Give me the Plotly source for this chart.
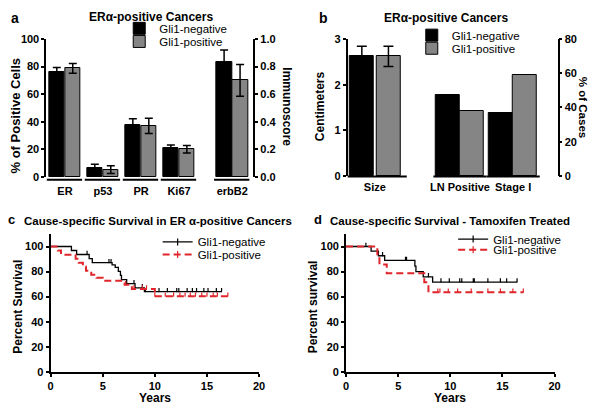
import numpy as np
import plotly.graph_objects as go

W, H = 600, 413

# ---------------- data ----------------
# panel a: % of positive cells (left axis) and immunoscore (right axis)
a_cats = ["ER", "p53", "PR", "Ki67"]
a_neg = [76.0, 6.6, 37.5, 21.0]
a_neg_err = [3.3, 2.5, 4.6, 2.2]
a_pos = [78.7, 5.2, 37.0, 20.0]
a_pos_err = [3.5, 2.8, 5.5, 2.7]
a_imm_cats = ["erbB2"]
a_imm_neg = [0.83]
a_imm_neg_err = [0.09]
a_imm_pos = [0.70]
a_imm_pos_err = [0.115]

# panel b: size in cm (left axis) and % of cases (right axis)
b_size_cats = ["Size"]
b_size_neg = [2.62]
b_size_neg_err = [0.22]
b_size_pos = [2.62]
b_size_pos_err = [0.22]
b_pct_cats = ["LN Positive", "Stage I"]
b_pct_neg = [47.0, 37.0]
b_pct_pos = [38.0, 59.0]

# panel c: cause-specific survival, ER-alpha positive
c_neg_t = [0, 2.0, 2.5, 3.7, 4.0, 5.9, 6.2, 6.5, 6.7, 6.8, 7.3, 8.1, 9.0, 16.4]
c_neg_s = [100, 96.8, 93.6, 90.3, 87.1, 85.4, 83.4, 80.1, 76.9, 73.6, 70.3, 67.0, 63.9, 63.9]
c_neg_cens = [3.5, 5.6, 5.8, 8.0, 8.8, 9.1, 10.4, 11.2, 12.1, 12.3, 13.1, 13.6, 14.0, 14.7, 15.1, 15.9, 16.4]
c_pos_t = [0, 0.7, 1.0, 2.4, 2.7, 3.1, 3.4, 3.9, 4.4, 5.0, 7.1, 7.8, 10.0, 17.0]
c_pos_s = [100, 96.8, 93.5, 90.3, 87.1, 83.9, 80.6, 77.4, 75.0, 72.6, 69.4, 66.0, 60.3, 60.3]
c_pos_cens = [7.2, 8.0, 8.8, 9.2, 10.0, 11.0, 11.8, 12.4, 12.9, 13.4, 13.9, 14.5, 15.0, 15.6, 16.0, 17.0]

# panel d: cause-specific survival, tamoxifen treated
d_neg_t = [0, 2.4, 3.1, 3.7, 6.6, 6.7, 7.4, 8.3, 16.4]
d_neg_s = [100, 96.3, 92.6, 88.9, 84.4, 80.0, 75.8, 71.6, 71.6]
d_neg_cens = [1.9, 3.5, 5.7, 5.8, 7.9, 9.1, 9.9, 10.9, 11.1, 12.2, 12.3, 13.6, 14.8, 15.4, 16.4]
d_pos_t = [0, 3.0, 3.2, 3.9, 7.5, 7.9, 17.0]
d_pos_s = [100, 92.9, 85.7, 78.6, 71.4, 63.5, 63.5]
d_pos_cens = [8.8, 9.0, 9.8, 10.7, 12.0, 13.6, 14.8, 16.0, 17.0]

series_names = ["Gli1-negative", "Gli1-positive"]

# ---------------- style ----------------
FONT = "Liberation Sans, Arial, sans-serif"
BLACK = "#000000"
GRAY = "#858585"
RED = "#e0262b"


def fx(px):
    return px / W


def fy(py):
    return 1 - py / H


fig = go.Figure()

# ----- panel a -----
a_x = np.arange(len(a_cats), dtype=float)
a_imm_x = np.arange(len(a_imm_cats), dtype=float) + len(a_cats) + 0.4
bw_a = 0.41
for vals, errs, xs, yax, col, nm, off, leg in [
    (a_neg, a_neg_err, a_x, "y", BLACK, series_names[0], -0.42, "legend"),
    (a_pos, a_pos_err, a_x, "y", GRAY, series_names[1], 0.0, "legend2"),
    (a_imm_neg, a_imm_neg_err, a_imm_x, "y2", BLACK, series_names[0], -0.42, None),
    (a_imm_pos, a_imm_pos_err, a_imm_x, "y2", GRAY, series_names[1], 0.0, None),
]:
    fig.add_trace(go.Bar(
        x=xs, y=vals, xaxis="x", yaxis=yax, name=nm,
        width=bw_a, offset=off,
        marker=dict(color=col, line=dict(color=BLACK, width=1)),
        error_y=dict(type="data", array=errs, color=BLACK, thickness=1.5, width=4),
        showlegend=leg is not None, legend=leg if leg else "legend",
    ))

# ----- panel b -----
b_size_x = np.arange(len(b_size_cats), dtype=float)
b_pct_x = np.arange(len(b_pct_cats), dtype=float) + 1.6
bw_b = 0.45
for vals, errs, xs, yax, col, nm, off, leg in [
    (b_size_neg, b_size_neg_err, b_size_x, "y3", BLACK, series_names[0], -0.47, "legend3"),
    (b_size_pos, b_size_pos_err, b_size_x, "y3", GRAY, series_names[1], 0.03, "legend4"),
    (b_pct_neg, None, b_pct_x, "y4", BLACK, series_names[0], -0.46, None),
    (b_pct_pos, None, b_pct_x, "y4", GRAY, series_names[1], 0.0, None),
]:
    fig.add_trace(go.Bar(
        x=xs, y=vals, xaxis="x2", yaxis=yax, name=nm,
        width=bw_b, offset=off,
        marker=dict(color=col, line=dict(color=BLACK, width=1)),
        error_y=(dict(type="data", array=errs, color=BLACK, thickness=1.5, width=5)
                 if errs is not None else None),
        showlegend=leg is not None, legend=leg if leg else "legend",
    ))


# ----- panels c, d -----
def censor_y(t, s, c):
    t = np.asarray(t)
    s = np.asarray(s)
    idx = np.searchsorted(t, np.asarray(c), side="right") - 1
    return s[np.clip(idx, 0, len(s) - 1)]


for (t, s, cens, col, dash, width, xa, ya, nm, leg) in [
    (c_neg_t, c_neg_s, c_neg_cens, BLACK, "solid", 1.3, "x3", "y5", series_names[0], "legend5"),
    (c_pos_t, c_pos_s, c_pos_cens, RED, "dash", 2.0, "x3", "y5", series_names[1], "legend6"),
    (d_neg_t, d_neg_s, d_neg_cens, BLACK, "solid", 1.3, "x4", "y6", series_names[0], "legend7"),
    (d_pos_t, d_pos_s, d_pos_cens, RED, "dash", 2.0, "x4", "y6", series_names[1], "legend8"),
]:
    dd = "7px,4px" if dash == "dash" else "solid"
    fig.add_trace(go.Scatter(
        x=t, y=s, xaxis=xa, yaxis=ya, mode="lines", line_shape="hv",
        line=dict(color=col, width=width, dash=dd), showlegend=False))
    # censor ticks: short upward strokes from the curve
    fig.add_trace(go.Scatter(
        x=cens, y=censor_y(t, s, cens), xaxis=xa, yaxis=ya, mode="markers",
        marker=dict(size=1, color=col),
        error_y=dict(type="constant", value=3.0, symmetric=False, valueminus=0,
                     width=0, thickness=1.2, color=col),
        showlegend=False))
    # legend entry
    fig.add_trace(go.Scatter(
        x=[None], y=[None], xaxis=xa, yaxis=ya, mode="lines+markers", name=nm,
        line=dict(color=col, width=width, dash=dd),
        marker=dict(symbol="line-ns", size=5, line=dict(color=col, width=1.2)),
        legend=leg, showlegend=True))

# ---------------- axes ----------------
tickfont = dict(family=FONT, size=11, color=BLACK, weight="bold")
ax_common = dict(showline=True, linecolor=BLACK, linewidth=1.8, ticks="outside",
                 ticklen=3, tickwidth=1.5, tickcolor=BLACK, showgrid=False,
                 zeroline=False, tickfont=tickfont)
cat_common = dict(showline=False, ticks="outside", ticklen=4, tickcolor="rgba(0,0,0,0)",
                  showgrid=False, zeroline=False, tickfont=tickfont)
cat_common_b = dict(cat_common, ticklen=1)

fig.update_layout(
    xaxis=dict(domain=[fx(44), fx(254)], anchor="y", range=[-0.49, 4.95],
               tickvals=list(a_x) + list(a_imm_x), ticktext=a_cats + a_imm_cats, **cat_common),
    yaxis=dict(domain=[fy(176), fy(34)], anchor="x", range=[0, 100], dtick=20, **ax_common),
    yaxis2=dict(overlaying="y", side="right", anchor="x", range=[0, 1], dtick=0.2,
                tickformat=".1f", **ax_common),
    xaxis2=dict(domain=[fx(350), fx(563)], anchor="y3", range=[-0.51, 3.435],
                tickvals=list(b_size_x) + list(b_pct_x), ticktext=b_size_cats + b_pct_cats,
                **cat_common_b),
    yaxis3=dict(domain=[fy(175), fy(34)], anchor="x2", range=[0, 3], dtick=1, **ax_common),
    yaxis4=dict(overlaying="y3", side="right", anchor="x2", range=[0, 80], dtick=20, **ax_common),
    xaxis3=dict(domain=[fx(48.3), fx(260)], anchor="y5", range=[0, 20], dtick=5, **ax_common),
    yaxis5=dict(domain=[fy(376.7), fy(234.8)], anchor="x3", range=[0, 110],
                tickvals=[0, 20, 40, 60, 80, 100], **ax_common),
    xaxis4=dict(domain=[fx(348.3), fx(560)], anchor="y6", range=[0, 20], dtick=5, **ax_common),
    yaxis6=dict(domain=[fy(376.7), fy(234.8)], anchor="x4", range=[0, 110],
                tickvals=[0, 20, 40, 60, 80, 100], **ax_common),
)

# category underlines (segmented x axis)
shapes = []
for xs in [a_x, a_imm_x]:
    for xv in xs:
        shapes.append(dict(type="line", xref="x", yref="paper", x0=xv - 0.48, x1=xv + 0.45,
                           y0=fy(179), y1=fy(179), line=dict(color=BLACK, width=2)))
for xv in b_size_x:
    shapes.append(dict(type="line", xref="x2", yref="paper", x0=xv - 0.6, x1=xv + 0.6,
                       y0=fy(175.5), y1=fy(175.5), line=dict(color=BLACK, width=2)))
for xv in b_pct_x:
    shapes.append(dict(type="line", xref="x2", yref="paper", x0=xv - 0.5, x1=xv + 0.5,
                       y0=fy(175.5), y1=fy(175.5), line=dict(color=BLACK, width=2)))
fig.update_layout(shapes=shapes)


# ---------------- text ----------------
def ann(text, px, py, size=12, angle=0, bold=True, xanchor="center"):
    return dict(text=text, x=fx(px), y=fy(py), xref="paper", yref="paper",
                showarrow=False, textangle=angle, xanchor=xanchor, yanchor="middle",
                font=dict(family=FONT, size=size, color=BLACK, weight="bold" if bold else "normal"))


annotations = [
    ann("a", 12, 12, size=14),
    ann("b", 325, 12, size=14),
    ann("c", 9, 220, size=13),
    ann("d", 320, 220, size=13),
    ann("ERα-positive Cancers", 150, 11.5),
    ann("ERα-positive Cancers", 450, 12),
    ann("Cause-specific Survival in ER α-positive Cancers", 19, 221, size=11.5, xanchor="left"),
    ann("Cause-specific Survival - Tamoxifen Treated", 330, 221, size=11.5, xanchor="left"),
    ann("% of Positive Cells", 13, 113, size=13, angle=-90),
    ann("Immunoscore", 288, 104, size=12, angle=90),
    ann("Centimeters", 322, 103, size=12, angle=-90),
    ann("% of Cases", 589, 104, size=11.5, angle=90),
    ann("Percent Survival", 15, 310, size=12, angle=-90),
    ann("Percent survival", 315, 310, size=12, angle=-90),
    ann("Years", 154, 404, size=12),
    ann("Years", 454, 404, size=12),
]


def leg(px, py, size=12):
    return dict(x=fx(px), y=fy(py), xanchor="left", yanchor="middle", xref="paper", yref="paper",
                bgcolor="rgba(0,0,0,0)", borderwidth=0,
                font=dict(family=FONT, size=size, color=BLACK), itemwidth=30)


fig.update_layout(
    width=W, height=H, margin=dict(l=0, r=0, t=0, b=0),
    paper_bgcolor="white", plot_bgcolor="white",
    barmode="overlay", bargap=0,
    annotations=annotations,
    legend=leg(118, 23, 11.5), legend2=leg(118, 36.5, 11.5),
    legend3=leg(415, 30, 11.5), legend4=leg(415, 43.5, 11.5),
    legend5=leg(157, 243, 11.5), legend6=leg(157, 256, 11.5),
    legend7=leg(457, 240, 11.5), legend8=leg(457, 251, 11.5),
    font=dict(family=FONT, color=BLACK),
)

fig.write_html("out.html", config={"displayModeBar": False},
               post_script="document.body.style.margin='0';")
